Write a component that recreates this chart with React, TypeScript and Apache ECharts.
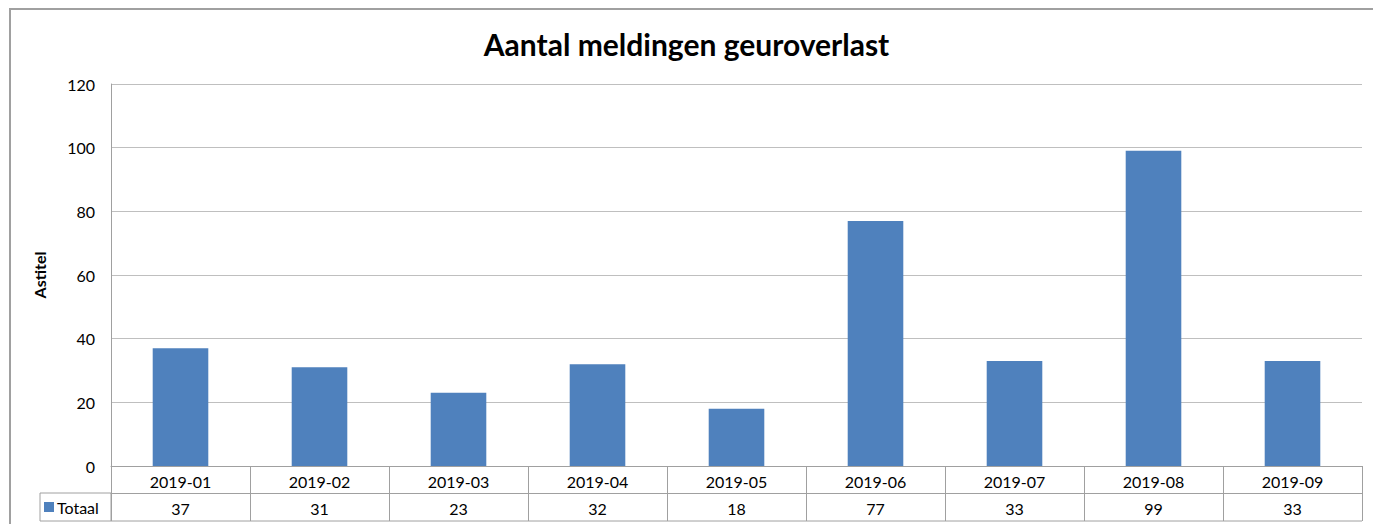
import React, { useEffect, useRef } from "react";
import * as echarts from "echarts";

const categories = ["2019-01", "2019-02", "2019-03", "2019-04", "2019-05", "2019-06", "2019-07", "2019-08", "2019-09"];
const totaal = [37, 31, 23, 32, 18, 77, 33, 99, 33];
const seriesName = "Totaal";
const titleText = "Aantal meldingen geuroverlast";
const yAxisName = "Astitel";

const FONT = "Lato, 'Open Sans', sans-serif";

export default function App() {
  const ref = useRef<HTMLDivElement>(null);
  useEffect(() => {
    document.body.style.margin = "0";
    const chart = echarts.init(ref.current!, null, { renderer: "svg" });
    const gridLeft = 111, gridRight = 11, gridTop = 84, gridBottom = 58;
    const W = 1373, H = 524;
    const axisY = H - gridBottom;
    const lineColor = "#a0a0a0";
    chart.setOption({
      animation: false,
      backgroundColor: "#fff",
      textStyle: { fontFamily: FONT },
      title: {
        text: titleText,
        left: "center",
        top: 24,
        textStyle: { fontSize: 30, fontWeight: "bold", color: "#000", fontFamily: FONT },
      },
      legend: {
        data: [seriesName],
        left: 44,
        top: axisY + 33,
        icon: "rect",
        itemWidth: 10,
        itemHeight: 10,
        itemGap: 4,
        textStyle: { fontSize: 16, color: "#000", padding: [0, 0, 0, -2] },
        padding: 0,
      },
      grid: { left: gridLeft, right: gridRight, top: gridTop, bottom: gridBottom, containLabel: false },
      xAxis: [
        {
          type: "category",
          data: categories,
          position: "bottom",
          axisLine: { show: true, lineStyle: { color: lineColor, width: 1 } },
          axisTick: { show: true, length: 27, lineStyle: { color: lineColor } },
          axisLabel: { fontSize: 16, color: "#000", margin: 7 },
        },
        {
          type: "category",
          data: totaal.map((v) => String(v)),
          position: "bottom",
          offset: 27,
          axisLine: { show: true, lineStyle: { color: lineColor, width: 1 } },
          axisTick: { show: true, length: 28, lineStyle: { color: lineColor } },
          axisLabel: { fontSize: 16, color: "#000", margin: 7 },
        },
      ],
      yAxis: {
        type: "value",
        min: 0,
        max: 120,
        interval: 20,
        name: yAxisName,
        nameLocation: "middle",
        nameRotate: 90,
        nameGap: 64,
        nameTextStyle: { fontSize: 16, fontWeight: "bold", color: "#000" },
        axisLine: { show: true, lineStyle: { color: lineColor } },
        axisTick: { show: false },
        axisLabel: { fontSize: 16, color: "#000", margin: 16 },
        splitLine: { lineStyle: { color: "#bfbfbf", width: 1 } },
      },
      series: [
        {
          name: seriesName,
          type: "bar",
          xAxisIndex: 0,
          data: totaal,
          barWidth: "40%",
          itemStyle: { color: "#4f81bd" },
        },
      ],
      graphic: [
        {
          type: "rect",
          shape: { x: 10, y: 9, width: W + 50, height: H + 50 },
          style: { fill: "none", stroke: "#a0a0a0", lineWidth: 2 },
          silent: true,
          z: -1,
        },
        {
          type: "rect",
          shape: { x: 40, y: axisY + 27, width: gridLeft - 40, height: 28 },
          style: { fill: "none", stroke: lineColor, lineWidth: 1 },
          silent: true,
        },
        {
          type: "line",
          shape: { x1: gridLeft, y1: axisY + 55, x2: W - gridRight, y2: axisY + 55 },
          style: { stroke: lineColor, lineWidth: 1 },
          silent: true,
        },
      ],
    });
    return () => chart.dispose();
  }, []);
  return <div ref={ref} style={{ width: 1373, height: 524 }} />;
}
